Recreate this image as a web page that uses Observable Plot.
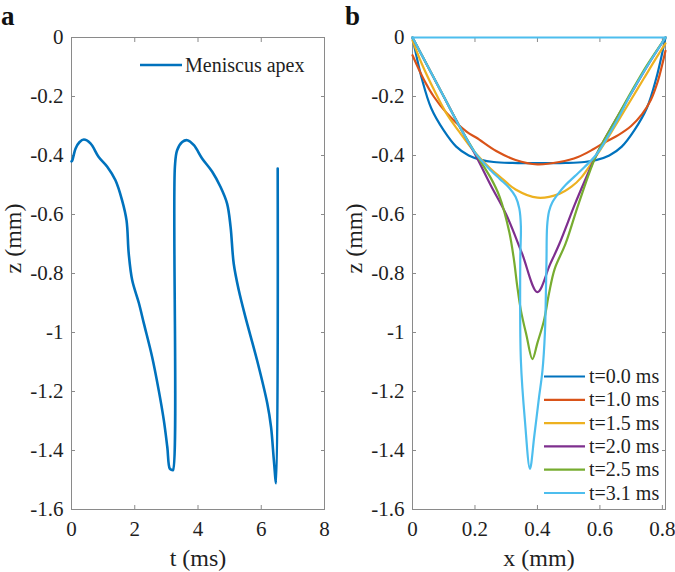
<!DOCTYPE html>
<html><head><meta charset="utf-8">
<script src="https://cdn.jsdelivr.net/npm/d3@7"></script>
<script src="https://cdn.jsdelivr.net/npm/@observablehq/plot@0.6"></script>
<style>
body{margin:0;background:#fff}
#wrap{position:relative;width:675px;height:572px;display:flex;font-family:"Liberation Serif","DejaVu Serif",serif}
#wrap > svg{display:block;overflow:visible}
#wrap svg text{font-family:"Liberation Serif","DejaVu Serif",serif}
#overlay{position:absolute;left:0;top:0;pointer-events:none;overflow:visible}
</style></head><body><div id="wrap"></div>
<script>
// ---------- Panel a data: meniscus apex z (mm) vs t (ms) ----------
const tA = [0, 0.02, 0.13, 0.25, 0.39, 0.6, 0.86, 1.13, 1.39, 1.6, 1.74, 1.81, 1.92, 2.13, 2.29, 2.55, 2.76, 2.92, 3.03, 3.11, 3.18, 3.21,
            3.27, 3.34, 3.5, 3.66, 3.87, 4.13, 4.45, 4.71, 4.92, 5.03, 5.13, 5.29, 5.5, 5.87, 6.19, 6.31, 6.4, 6.47, 6.52];
const zA = [-0.42, -0.418, -0.376, -0.355, -0.346, -0.359, -0.405, -0.438, -0.484, -0.552, -0.62, -0.733, -0.823, -0.9, -0.97, -1.083, -1.197, -1.298, -1.389, -1.462, -1.466, -1.466,
            -0.438, -0.382, -0.354, -0.348, -0.365, -0.41, -0.455, -0.506, -0.563, -0.642, -0.767, -0.857, -0.948, -1.095, -1.24, -1.321, -1.434, -1.511, -0.444];
const labelA = "Meniscus apex";

// ---------- Panel b data: meniscus profiles z (mm) vs x (mm) ----------
const seriesNames = ["t=0.0 ms", "t=1.0 ms", "t=1.5 ms", "t=2.0 ms", "t=2.5 ms", "t=3.1 ms"];
const seriesColors = ["#0072BD", "#D95319", "#EDB120", "#7E2F8E", "#77AC30", "#4DBEEE"];
const x00 = [0, 0.01, 0.03, 0.06, 0.1, 0.14, 0.18, 0.22, 0.26, 0.32, 0.4, 0.49, 0.55, 0.59, 0.63, 0.67, 0.71, 0.75, 0.78, 0.8, 0.81];
const z00 = [0, -0.05, -0.14, -0.24, -0.315, -0.37, -0.4, -0.415, -0.422, -0.425, -0.426, -0.425, -0.422, -0.415, -0.4, -0.37, -0.315, -0.24, -0.14, -0.05, 0];
const x10 = [0, 0.037, 0.068, 0.11, 0.174, 0.205, 0.268, 0.33, 0.4, 0.47, 0.53, 0.58, 0.616, 0.66, 0.7, 0.735, 0.763, 0.785, 0.8, 0.81];
const z10 = [-0.06, -0.144, -0.2, -0.257, -0.32, -0.34, -0.385, -0.415, -0.43, -0.422, -0.405, -0.378, -0.355, -0.33, -0.3, -0.26, -0.212, -0.15, -0.09, -0.045];
const x15 = [0, 0.03, 0.07, 0.11, 0.15, 0.2, 0.25, 0.28, 0.33, 0.4, 0.47, 0.51, 0.54, 0.58, 0.62, 0.66, 0.7, 0.74, 0.78, 0.81];
const z15 = [-0.01, -0.09, -0.18, -0.26, -0.32, -0.39, -0.445, -0.472, -0.515, -0.543, -0.53, -0.505, -0.475, -0.415, -0.35, -0.28, -0.21, -0.14, -0.07, -0.02];
const x20 = [0, 0.05, 0.1, 0.15, 0.2, 0.25, 0.3, 0.35, 0.4, 0.44, 0.47, 0.52, 0.55, 0.59, 0.65, 0.7, 0.75, 0.81];
const z20 = [0, -0.1, -0.2, -0.3, -0.395, -0.5, -0.6, -0.73, -0.863, -0.77, -0.7, -0.565, -0.49, -0.395, -0.28, -0.19, -0.1, 0];
const x25 = [0, 0.05, 0.1, 0.15, 0.2, 0.25, 0.279, 0.31, 0.325, 0.335, 0.347, 0.365, 0.384, 0.4, 0.421, 0.437, 0.455, 0.49, 0.532, 0.59, 0.65, 0.7, 0.75, 0.81];
const z25 = [0, -0.1, -0.2, -0.3, -0.39, -0.475, -0.54, -0.66, -0.755, -0.84, -0.925, -1.01, -1.09, -1.035, -0.959, -0.868, -0.785, -0.699, -0.563, -0.395, -0.28, -0.185, -0.095, 0];
const x31 = [0, 0.05, 0.1, 0.15, 0.2, 0.25, 0.28, 0.31, 0.33, 0.342, 0.347, 0.345, 0.347, 0.36, 0.376, 0.39, 0.405, 0.416, 0.424, 0.427, 0.429, 0.431, 0.437, 0.447, 0.47, 0.49, 0.52, 0.55, 0.59, 0.65, 0.7, 0.75, 0.81];
const z31 = [0, -0.1, -0.2, -0.3, -0.39, -0.45, -0.48, -0.51, -0.54, -0.58, -0.64, -0.755, -1.095, -1.3, -1.462, -1.35, -1.22, -1.13, -1.0, -0.87, -0.755, -0.64, -0.59, -0.56, -0.525, -0.5, -0.47, -0.44, -0.395, -0.29, -0.19, -0.1, 0];
const xs = [x00, x10, x15, x20, x25, x31];
const zs = [z00, z10, z15, z20, z25, z31];
// t=3.1 ms contour is closed along the free surface line z=0
const xTop = [0, 0.81];
const zTop = [0, 0];

const yTicks = [-1.6, -1.4, -1.2, -1, -0.8, -0.6, -0.4, -0.2, 0];
const xTicksA = [0, 2, 4, 6, 8];
const xTicksB = [0, 0.2, 0.4, 0.6, 0.8];
const xLabelA = "t (ms)", xLabelB = "x (mm)", yLabel = "z (mm)";

// ---------- build ----------
const FONT = '"Liberation Serif", "DejaVu Serif", serif';
const fmt = d => d === 0 ? "0" : String(Math.round(d * 10) / 10);
const axisColor = "#8a8a8a";
const textColor = "#1f1f1f";

function axes(xTicks) {
  return [
    Plot.frame({stroke: axisColor, strokeWidth: 1}),
    Plot.axisX({ticks: xTicks, anchor: "bottom", tickSize: -4, tickPadding: 16, tickFormat: fmt, label: null, fontSize: 21, stroke: axisColor, fill: textColor}),
    Plot.axisX({ticks: xTicks, anchor: "top", tickSize: -4, tickFormat: () => "", label: null, stroke: axisColor}),
    Plot.axisY({ticks: yTicks, anchor: "left", tickSize: -4, tickPadding: 12, tickFormat: fmt, label: null, fontSize: 21, stroke: axisColor, fill: textColor}),
    Plot.axisY({ticks: yTicks, anchor: "right", tickSize: -4, tickFormat: () => "", label: null, stroke: axisColor})
  ];
}
function labels(xl) {
  return [
    Plot.text([xl], {frameAnchor: "bottom", dy: 56, lineAnchor: "bottom", fontSize: 24, fill: textColor}),
    Plot.text([yLabel], {frameAnchor: "left", rotate: -90, dx: -51, lineAnchor: "bottom", fontSize: 24, fill: textColor})
  ];
}

const dataA = tA.map((t, i) => ({t, z: zA[i]}));
const plotA = Plot.plot({
  width: 337, height: 572,
  marginLeft: 71, marginRight: 13, marginTop: 37, marginBottom: 63,
  style: {fontFamily: FONT, background: "white", overflow: "visible"},
  x: {domain: [0, 8]},
  y: {domain: [-1.6, 0]},
  marks: [
    ...axes(xTicksA),
    Plot.line(dataA, {x: "t", y: "z", stroke: seriesColors[0], strokeWidth: 2.6, curve: "catmull-rom"}),
    ...labels(xLabelA)
  ]
});

const dataB = [];
seriesNames.forEach((s, k) => xs[k].forEach((x, i) => dataB.push({s, x, z: zs[k][i]})));
const dataTop = xTop.map((x, i) => ({x, z: zTop[i]}));
const plotB = Plot.plot({
  width: 338, height: 572,
  marginLeft: 75, marginRight: 10, marginTop: 37, marginBottom: 63,
  style: {fontFamily: FONT, background: "white", overflow: "visible"},
  x: {domain: [0, 0.81]},
  y: {domain: [-1.6, 0]},
  color: {domain: seriesNames, range: seriesColors},
  marks: [
    ...axes(xTicksB),
    Plot.line(dataB, {x: "x", y: "z", z: "s", stroke: "s", strokeWidth: 2.2, curve: "catmull-rom"}),
    Plot.line(dataTop, {x: "x", y: "z", stroke: seriesColors[5], strokeWidth: 2.2}),
    ...labels(xLabelB)
  ]
});
for (const p of [plotA, plotB]) p.setAttribute("font-family", FONT);

const wrap = document.getElementById("wrap");
wrap.append(plotA, plotB);

// ---------- overlay: panel letters and in-plot legends ----------
const ov = d3.select(wrap).append("svg").attr("id", "overlay").attr("width", 675).attr("height", 572)
  .attr("font-family", FONT);
ov.append("text").attr("x", 1).attr("y", 25).attr("font-size", 27).attr("font-weight", "bold").attr("fill", "#111").text("a");
ov.append("text").attr("x", 345).attr("y", 25).attr("font-size", 27).attr("font-weight", "bold").attr("fill", "#111").text("b");

const legA = ov.append("g").attr("transform", "translate(140,65)");
legA.append("line").attr("x1", 0).attr("x2", 42).attr("stroke", seriesColors[0]).attr("stroke-width", 2.6);
legA.append("text").attr("x", 45).attr("y", 6.5).attr("font-size", 20).attr("fill", textColor).text(labelA);

const legB = ov.append("g").attr("transform", "translate(544,376.5)");
seriesNames.forEach((s, k) => {
  const g = legB.append("g").attr("transform", `translate(0,${k * 23.3})`);
  g.append("line").attr("x1", 0).attr("x2", 41).attr("stroke", seriesColors[k]).attr("stroke-width", 2.2);
  g.append("text").attr("x", 45).attr("y", 6.5).attr("font-size", 20).attr("fill", textColor).text(s);
});
</script></body></html>
